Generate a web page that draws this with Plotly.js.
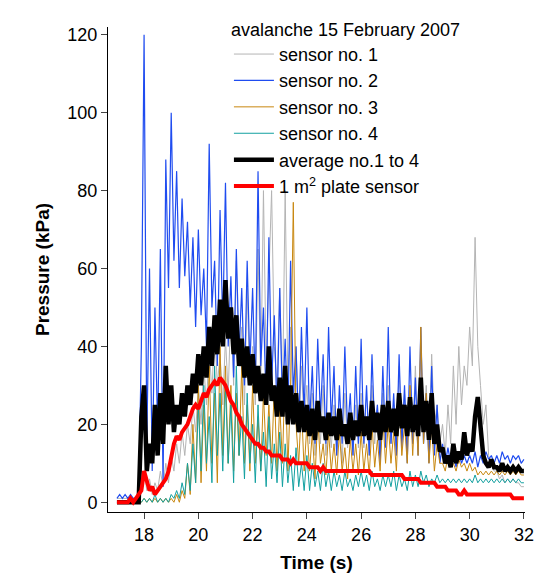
<!DOCTYPE html>
<html>
<head>
<meta charset="utf-8">
<script src="https://cdn.plot.ly/plotly-3.0.1.min.js"></script>
<style>body{margin:0}#chart{width:537px;height:588px}</style>
</head>
<body>
<div id="chart"></div>
<script>
const tStart = 17, tStep = 0.1;

const sensor1 = [1,1,1,1,1,1,1,1,1,5, 8,3,6,2,5,3,8,4,10,5, 12,8,15,10,18,12,20,15,25,18,
  30,20,35,25,40,28,45,30,38,25, 42,28,50,30,62,35,45,25,55,30, 40,25,65,30,80,35,55,80,40,30,
  55,25,80,30,45,20,40,18,35,20, 30,15,28,12,25,15,30,12,22,14, 25,12,22,10,28,14,20,12,25,14,
  28,14,22,12,30,15,25,12,28,15, 30,15,25,12,35,18,28,14,30,15, 35,15,40,18,30,15,38,20,25,15,
  20,12,25,15,35,20,40,25,35,30, 45,35,68,40,30,20,25,12,10,8, 8,6,7,5,6,5,6,5,5,4, 4];

const sensor2 = [1,2,1,2,1,2,1,1,2,40, 120,15,60,8,50,18,65,4,88,55, 100,62,85,55,78,58,72,50,68,45,
  70,48,60,40,92,50,62,35,75,45, 82,40,58,32,65,38,55,30,62,35, 55,28,85,35,50,25,68,30,48,22,
  55,25,42,20,62,28,40,18,45,22, 50,20,35,15,42,22,38,15,45,20, 35,12,30,15,40,18,28,12,35,15,
  42,15,30,12,38,18,25,10,35,14, 45,15,28,12,38,14,30,10,40,15, 32,12,45,15,28,10,35,12,25,10,
  15,10,14,10,12,9,13,10,12,10, 12,10,13,9,12,10,13,11,12,10, 12,10,13,11,12,10,12,11,12,10, 11];

const sensor3 = [0,0,0,0,0,0,0,0,0,0, 1,0,1,0,1,0,1,0,1,0, 1,0,2,0,3,1,10,2,20,5,
  30,5,25,8,35,10,28,5,40,12, 35,10,30,8,28,12,35,10,25,8, 30,10,22,8,28,12,25,10,30,8,
  25,10,35,8,30,77,20,10,25,8, 20,8,18,6,22,10,15,7,18,8, 15,7,18,8,14,6,16,8,15,7,
  18,8,15,7,20,9,16,8,22,10, 20,10,18,8,25,12,20,10,30,12, 25,12,45,15,28,10,20,8,15,10,
  10,8,12,9,10,8,11,9,10,8, 10,8,9,7,8,7,8,7,8,7, 8,7,8,7,8,7,8,7,8,7, 7];

const sensor4 = [0,0,0,0,0,0,0,0,0,0, 1,0,1,0,2,0,1,0,1,0, 2,1,3,1,5,2,10,3,15,5,
  25,8,30,10,22,5,35,12,28,8, 30,10,25,5,35,12,22,6,28,10, 20,5,25,8,18,4,22,6,15,5,
  18,4,15,5,12,3,14,4,10,3, 12,3,10,4,8,3,10,4,8,3, 8,4,7,3,8,4,6,3,7,4,
  8,4,7,3,8,4,6,3,7,4, 7,4,8,3,7,4,6,3,8,4, 7,4,8,5,7,4,6,5,7,5,
  6,5,6,5,6,5,6,5,6,5, 6,5,7,5,6,5,6,5,6,5, 6,5,6,5,6,5,6,5,6,5, 5];

const average = [0,0,0,0,0,0,0,0,0,22, 30,8,15,10,25,12,28,15,35,20, 30,18,25,20,28,22,30,25,33,28,
  38,30,40,32,45,35,48,38,52,40, 57,42,50,38,48,35,42,32,40,30, 38,28,35,26,33,25,40,26,30,22,
  32,22,35,20,30,20,28,18,26,18, 25,17,24,16,26,18,22,16,23,17, 22,16,24,17,20,15,23,16,21,17,
  25,17,22,16,26,18,23,16,25,18, 26,18,24,17,28,19,25,17,27,18, 25,17,32,18,26,16,28,15,20,13,
  14,10,12,9,15,10,13,11,18,12, 15,13,22,27,18,12,10,9,11,9, 9,8,10,8,9,8,9,8,9,8, 8];

const plate = [0,0,0,0,0,1,0,1,2,3, 8,5,3,4,2,3,4,5,6,8, 12,15,17,16,18,19,20,22,24,25,
  24,26,28,27,29,30,31,30,32,31, 30,28,26,25,23,22,20,19,18,17, 16,15,15,14,14,13,13,12,12,12,
  12,11,11,11,10,11,10,10,10,10, 10,9,9,9,9,8,9,8,8,8, 8,8,8,8,8,8,8,8,8,8,
  8,8,8,8,7,7,7,7,7,7, 7,7,7,7,7,7,6,6,6,6, 6,6,5,5,5,5,5,5,4,4,
  4,4,3,3,3,3,2,2,3,2, 2,2,2,2,2,2,2,2,2,2, 2,2,2,2,2,2,1,1,1,1, 1];

const time = sensor2.map((_, i) => +(tStart + i * tStep).toFixed(1));

const series = [
  {name: "sensor no. 1", y: sensor1, color: "#b4b4b4", width: 1},
  {name: "sensor no. 2", y: sensor2, color: "#1f4cf0", width: 1.2},
  {name: "sensor no. 3", y: sensor3, color: "#c8870f", width: 1},
  {name: "sensor no. 4", y: sensor4, color: "#12a0a0", width: 1},
  {name: "average no.1 to 4", y: average, color: "black", width: 4.5},
  {name: "1 m<sup>2</sup> plate sensor", y: plate, color: "#ff0000", width: 4}
];

const data = series.map(s => ({
  x: time, y: s.y, name: s.name, type: "scatter", mode: "lines",
  line: {color: s.color, width: s.width}
}));

const layout = {
  width: 537, height: 588,
  margin: {l: 108, r: 12, t: 20, b: 76},
  font: {family: "Liberation Sans, Arial, sans-serif", size: 18, color: "black"},
  showlegend: true,
  legend: {
    x: 0.29, y: 1.03, xanchor: "left", yanchor: "top",
    bgcolor: "rgba(0,0,0,0)", tracegroupgap: 0, itemwidth: 40,
    title: {text: "avalanche 15 February 2007", font: {size: 18}},
    font: {size: 18}
  },
  xaxis: {
    range: [16.67, 32.04], tickvals: [18,20,22,24,26,28,30,32],
    ticks: "outside", ticklen: 6, showline: true, linecolor: "black",
    showgrid: false, zeroline: false,
    title: {text: "<b>Time (s)</b>", font: {size: 19}, standoff: 12}
  },
  yaxis: {
    range: [-2.5, 122], tickvals: [0,20,40,60,80,100,120],
    ticks: "outside", ticklen: 6, showline: true, linecolor: "black",
    showgrid: false, zeroline: false,
    title: {text: "<b>Pressure (kPa)</b>", font: {size: 19}, standoff: 12}
  },
  plot_bgcolor: "white", paper_bgcolor: "white"
};

Plotly.newPlot("chart", data, layout, {displayModeBar: false});
</script>
</body>
</html>
